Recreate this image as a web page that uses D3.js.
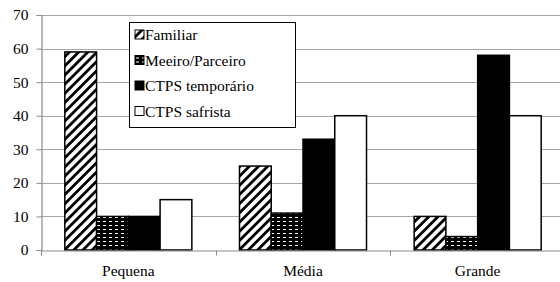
<!DOCTYPE html>
<html>
<head>
<meta charset="utf-8">
<script src="https://cdn.jsdelivr.net/npm/d3@7"></script>
<style>
  body { margin: 0; background: #fff; }
  svg { display: block; }
</style>
</head>
<body>
<div id="chart"></div>
<script>
// data
const categories = ['Pequena', 'Média', 'Grande'];
const series = ['Familiar', 'Meeiro/Parceiro', 'CTPS temporário', 'CTPS safrista'];
const familiar = [59, 25, 10];
const meeiro = [10, 11, 4];
const temporario = [10, 33, 58];
const safrista = [15, 40, 40];
const yTicks = [0, 10, 20, 30, 40, 50, 60, 70];

const values = [familiar, meeiro, temporario, safrista];
const fills = ['url(#hatch)', 'url(#dots)', '#000', '#fff'];
const serif = "'Liberation Serif', 'DejaVu Serif', serif";
const fontSize = 15.5;

const width = 560, height = 282;
const margin = { top: 15, right: -5, bottom: 32, left: 41 };

const svg = d3.select('#chart')
  .append('svg')
  .attr('width', width)
  .attr('height', height)
  .attr('font-family', serif)
  .attr('font-size', fontSize);

// patterns
const defs = svg.append('defs');
const hatch = defs.append('pattern')
  .attr('id', 'hatch')
  .attr('patternUnits', 'userSpaceOnUse')
  .attr('width', 6.5).attr('height', 6.5)
  .attr('patternTransform', 'rotate(45)');
hatch.append('rect').attr('width', 6.5).attr('height', 6.5).attr('fill', '#fff');
hatch.append('rect').attr('x', 0).attr('width', 2.8).attr('height', 6.5).attr('fill', '#000');

const dots = defs.append('pattern')
  .attr('id', 'dots')
  .attr('patternUnits', 'userSpaceOnUse')
  .attr('width', 6).attr('height', 4);
dots.append('rect').attr('width', 6).attr('height', 4).attr('fill', '#000');
dots.append('rect').attr('x', 1).attr('y', 1).attr('width', 3).attr('height', 1).attr('fill', '#fff');

const x0 = d3.scaleBand()
  .domain(categories)
  .range([margin.left, width - margin.right]);

const x1 = d3.scaleBand()
  .domain(series)
  .range([0, x0.bandwidth()])
  .paddingOuter(0.75);

const y = d3.scaleLinear()
  .domain([0, 70])
  .range([height - margin.bottom, margin.top]);

// gridlines
svg.append('g')
  .selectAll('line')
  .data(yTicks.filter(d => d > 0))
  .join('line')
  .attr('x1', margin.left)
  .attr('x2', width)
  .attr('y1', d => Math.round(y(d)) + 0.5)
  .attr('y2', d => Math.round(y(d)) + 0.5)
  .attr('stroke', '#a6a6a6')
  .attr('stroke-width', 1.2);

// y axis
const yAxis = svg.append('g')
  .attr('transform', `translate(${margin.left + 0.5},0)`)
  .call(d3.axisLeft(y).tickValues(yTicks).tickSize(5).tickPadding(8));
yAxis.attr('font-family', serif).attr('font-size', fontSize);
yAxis.select('.domain').attr('stroke', '#8c8c8c').attr('stroke-width', 1.2);
yAxis.selectAll('.tick line').attr('stroke', '#8c8c8c');
yAxis.selectAll('.tick text').attr('fill', '#000');

// bars
const groups = svg.append('g')
  .selectAll('g')
  .data(series)
  .join('g')
  .attr('fill', (d, i) => fills[i]);

groups.selectAll('rect')
  .data((s, i) => categories.map((c, j) => ({ c, s, v: values[i][j] })))
  .join('rect')
  .attr('x', d => x0(d.c) + x1(d.s))
  .attr('y', d => y(d.v))
  .attr('width', x1.bandwidth())
  .attr('height', d => y(0) - y(d.v))
  .attr('stroke', '#000')
  .attr('stroke-width', 1.5);

// x axis
const xAxis = svg.append('g')
  .attr('transform', `translate(0,${Math.round(y(0)) + 0.5})`)
  .call(d3.axisBottom(x0).tickSize(0).tickPadding(14));
xAxis.attr('font-family', serif).attr('font-size', fontSize);
xAxis.select('.domain').attr('stroke', '#8c8c8c').attr('stroke-width', 1.2);
xAxis.selectAll('.tick text').attr('fill', '#000');

// x tick marks at category boundaries
xAxis.append('g')
  .selectAll('line')
  .data(categories)
  .join('line')
  .attr('x1', d => Math.round(x0(d)) + 0.5)
  .attr('x2', d => Math.round(x0(d)) + 0.5)
  .attr('y1', 0)
  .attr('y2', 5)
  .attr('stroke', '#8c8c8c');

// legend
const legend = svg.append('g').attr('transform', 'translate(129,22)');
legend.append('rect')
  .attr('x', 0.5).attr('y', 0.5)
  .attr('width', 166).attr('height', 105)
  .attr('fill', '#fff')
  .attr('stroke', '#000')
  .attr('stroke-width', 1);

const item = legend.selectAll('g.item')
  .data(series)
  .join('g')
  .attr('class', 'item')
  .attr('transform', (d, i) => `translate(6,${13 + i * 25.5})`);

item.append('rect')
  .attr('x', 0).attr('y', -5)
  .attr('width', 9).attr('height', 9)
  .attr('fill', (d, i) => fills[i])
  .attr('stroke', '#000')
  .attr('stroke-width', 1);

item.append('text')
  .attr('x', 10)
  .attr('y', 5)
  .attr('fill', '#000')
  .text(d => d);
</script>
</body>
</html>
